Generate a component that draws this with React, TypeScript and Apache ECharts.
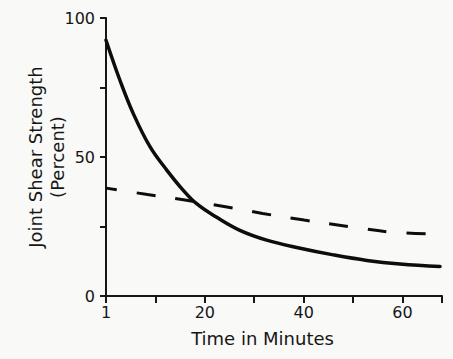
import { useEffect, useRef } from "react";
import * as echarts from "echarts";

// Time axis value 0 is drawn with the label "1" (first minute)
const solidTime = [0, 2.8, 5.5, 8.9, 12.3, 15.6, 18.4, 22.4, 27.1, 32.5, 39.3, 46, 52.8, 59.5, 67.6];
const solidStrength = [92, 77.7, 65.7, 53.7, 45.3, 38.1, 33.1, 28.3, 23.6, 20.1, 17.2, 14.8, 12.8, 11.5, 10.6];

const dashedTime = [0, 8.4, 16, 23.9, 31.7, 40.1, 49.8, 57.7, 68];
const dashedStrength = [38.8, 36.5, 34.5, 32.2, 29.7, 27.3, 24.8, 23.0, 22.2];

const xLabelValues = [0, 20, 40, 60];
const xLabelTexts = ["1", "20", "40", "60"];
const xTickValues = [0, 10, 20, 30, 40, 50, 60, 68];
const yLabelValues = [0, 50, 100];

const FONT = "DejaVu Sans";
const INK = "#161616";

export default function App() {
  const ref = useRef<HTMLDivElement>(null);
  useEffect(() => {
    if (!ref.current) return;
    const chart = echarts.init(ref.current, null, { renderer: "svg" });
    const zip = (xs: number[], ys: number[]) => xs.map((x, i) => [x, ys[i]]);
    chart.setOption({
      animation: false,
      backgroundColor: "#f9f9f7",
      grid: { left: 106, right: 11, top: 18, bottom: 63 },
      xAxis: {
        type: "value",
        min: 0,
        max: 68,
        interval: 10,
        name: "Time in Minutes",
        nameLocation: "middle",
        nameGap: 33,
        nameMoveOverlap: false,
        nameTextStyle: { fontFamily: FONT, fontSize: 18, color: INK, padding: [0, 23, 0, 0] },
        axisLine: { lineStyle: { color: INK, width: 2 } },
        axisTick: { show: true, length: 7, lineStyle: { color: INK, width: 2 }, customValues: xTickValues },
        axisLabel: {
          fontFamily: FONT,
          fontSize: 16,
          color: INK,
          margin: 8,
          customValues: xLabelValues,
          formatter: (v: number) => {
            const i = xLabelValues.indexOf(v);
            return i >= 0 ? xLabelTexts[i] : "";
          },
        },
        splitLine: { show: false },
      },
      yAxis: {
        type: "value",
        min: 0,
        max: 100,
        interval: 25,
        name: "Joint Shear Strength\n(Percent)",
        nameLocation: "middle",
        nameGap: 38,
        nameMoveOverlap: false,
        nameTextStyle: { fontFamily: FONT, fontSize: 18, color: INK, lineHeight: 22 },
        axisLine: { show: true, lineStyle: { color: INK, width: 2 } },
        axisTick: { show: true, length: 6, lineStyle: { color: INK, width: 2 } },
        axisLabel: {
          fontFamily: FONT,
          fontSize: 16,
          color: INK,
          margin: 11,
          formatter: (v: number) => (yLabelValues.indexOf(v) >= 0 ? String(v) : ""),
        },
        splitLine: { show: false },
      },
      series: [
        {
          type: "line",
          data: zip(solidTime, solidStrength),
          showSymbol: false,
          smooth: 0.4,
          lineStyle: { color: "#0d0d0d", width: 3.5, cap: "round" },
        },
        {
          type: "line",
          data: zip(dashedTime, dashedStrength),
          showSymbol: false,
          smooth: 0.4,
          lineStyle: { color: "#0d0d0d", width: 3, type: [19, 20], dashOffset: 8 },
        },
      ],
    });
    return () => chart.dispose();
  }, []);
  return (
    <div
      ref={ref}
      style={{ position: "fixed", left: 0, top: 0, width: 453, height: 359 }}
    />
  );
}
